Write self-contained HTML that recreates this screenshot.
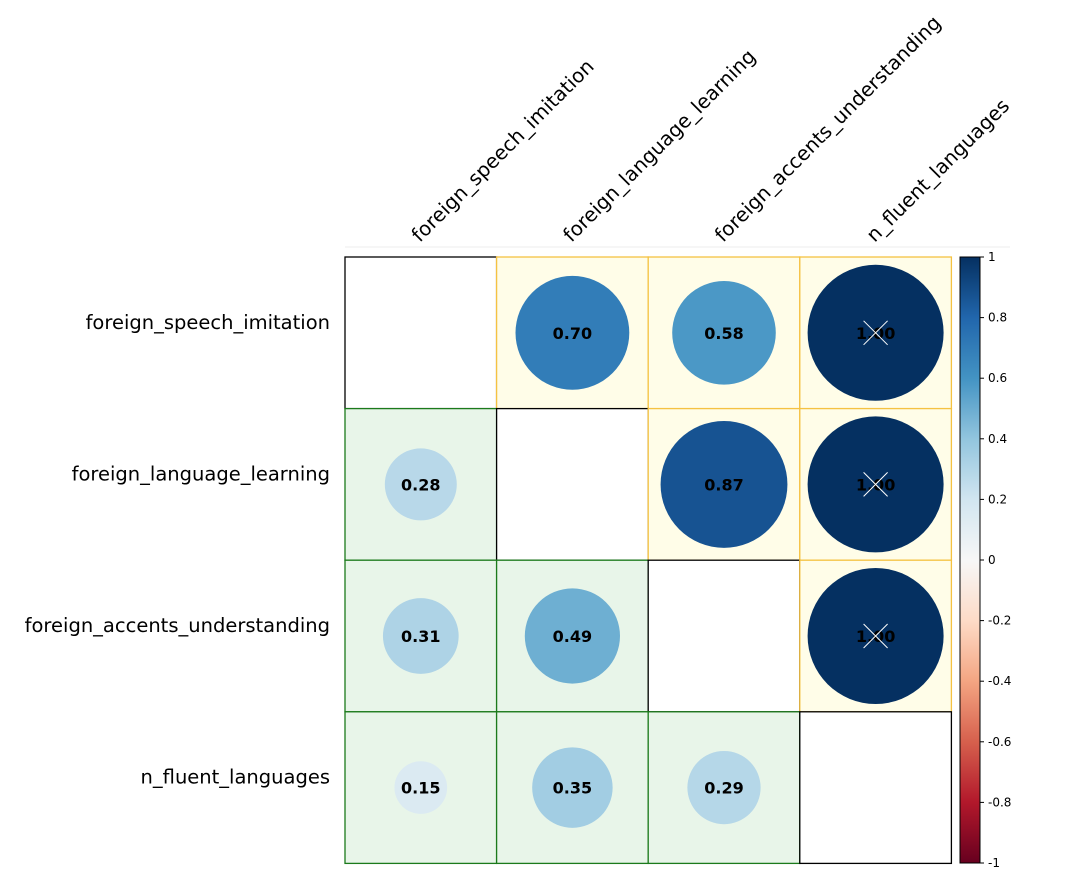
<!DOCTYPE html>
<html><head><meta charset="utf-8"><style>
body{margin:0;background:#fff;}
svg{display:block;font-family:"DejaVu Sans","Liberation Sans",sans-serif;}
</style></head><body>
<svg id="chart" width="1075" height="890" viewBox="0 0 1075 890">
<defs>
<linearGradient id="cbar" x1="0" y1="1" x2="0" y2="0">
<stop offset="0" stop-color="#67001f"/><stop offset="0.1" stop-color="#b2182b"/><stop offset="0.2" stop-color="#d6604d"/><stop offset="0.3" stop-color="#f4a582"/><stop offset="0.4" stop-color="#fddbc7"/><stop offset="0.5" stop-color="#f7f7f7"/><stop offset="0.6" stop-color="#d1e5f0"/><stop offset="0.7" stop-color="#92c5de"/><stop offset="0.8" stop-color="#4393c3"/><stop offset="0.9" stop-color="#2166ac"/><stop offset="1" stop-color="#053061"/>
</linearGradient>
</defs>
<line x1="345" y1="247" x2="1010" y2="247" stroke="#eee" stroke-width="1"/>
<g id="cells"></g>
<g id="labels"></g>
<g id="colorbar">
<rect x="960" y="257" width="20" height="606" fill="url(#cbar)" stroke="#000" stroke-width="1"/>
</g>
</svg>
<script>
const labels = ["foreign_speech_imitation","foreign_language_learning","foreign_accents_understanding","n_fluent_languages"];
const upperValues = [[null,0.70,0.58,1.00],[null,null,0.87,1.00],[null,null,null,1.00],[null,null,null,null]];
const lowerValues = [[null,null,null,null],[0.28,null,null,null],[0.31,0.49,null,null],[0.15,0.35,0.29,null]];
const colorbarTicks = [1,0.8,0.6,0.4,0.2,0,-0.2,-0.4,-0.6,-0.8,-1];

const NS="http://www.w3.org/2000/svg";
const x0=345,y0=257,cs=151.6,rMax=68;
const stops=["#67001f","#b2182b","#d6604d","#f4a582","#fddbc7","#f7f7f7","#d1e5f0","#92c5de","#4393c3","#2166ac","#053061"];
function hex(h){return [1,3,5].map(i=>parseInt(h.substr(i,2),16));}
function color(v){const t=(v+1)/2*10;const i=Math.min(9,Math.floor(t));const f=t-i;const a=hex(stops[i]),b=hex(stops[i+1]);return "rgb("+a.map((c,k)=>Math.round(c+(b[k]-c)*f)).join(",")+")";}
function xs(i){return x0+i*cs;}
function ys(j){return y0+j*cs;}
function mk(tag,attrs,parent){const e=document.createElementNS(NS,tag);for(const k in attrs)e.setAttribute(k,attrs[k]);parent.appendChild(e);return e;}
const cells=document.getElementById('cells');
const lab=document.getElementById('labels');
const n=labels.length;
for(let j=0;j<n;j++)for(let i=0;i<n;i++){
  let v=null,fill="#fff",stroke="#000";
  if(i>j){v=upperValues[j][i];fill="#fffde8";stroke="#f5c242";}
  else if(i<j){v=lowerValues[j][i];fill="#e8f5e9";stroke="#1b7a1b";}
  const r=mk('rect',{x:xs(i),y:ys(j),width:cs,height:cs,fill:fill,stroke:stroke,'stroke-width':1.3},cells);
  
  
  if(v===null)continue;
  const cx=xs(i)+cs/2,cy=ys(j)+cs/2;
  const c=mk('circle',{cx:cx,cy:cy,r:rMax*Math.sqrt(Math.abs(v)),fill:color(v)},cells);
  
  
  const t=mk('text',{x:cx,y:cy+6,'text-anchor':'middle','font-size':16,'font-weight':'bold',fill:'#000'},cells);
  t.textContent=v.toFixed(2);
  
  
  if(Math.abs(v)>=0.995){
    const s=mk('path',{d:`M${cx-12},${cy-12}L${cx+12},${cy+12}M${cx+12},${cy-12}L${cx-12},${cy+12}`,stroke:'#fff','stroke-width':1},cells);
    
    
  }
}
labels.forEach((l,k)=>{
  const t=mk('text',{x:330,y:ys(k)+cs/2-4,'text-anchor':'end','font-size':19.5,fill:'#000'},lab);
  t.textContent=l;
  
  
  const ax=xs(k)+cs/2-1,ay=243;
  const c=mk('text',{x:ax,y:ay,'font-size':19.8,fill:'#000',transform:`rotate(-45 ${ax} ${ay})`},lab);
  c.textContent=l;
  
  
});
const cb=document.getElementById('colorbar');
colorbarTicks.forEach(v=>{
  const y=257+(1-v)/2*606;
  const l=mk('line',{x1:980,x2:984,y1:y,y2:y,stroke:'#000'},cb);
  
  
  const t=mk('text',{x:988,y:y+4,'font-size':12,fill:'#000'},cb);
  t.textContent=String(v);
  
  
});
</script>
</body></html>
